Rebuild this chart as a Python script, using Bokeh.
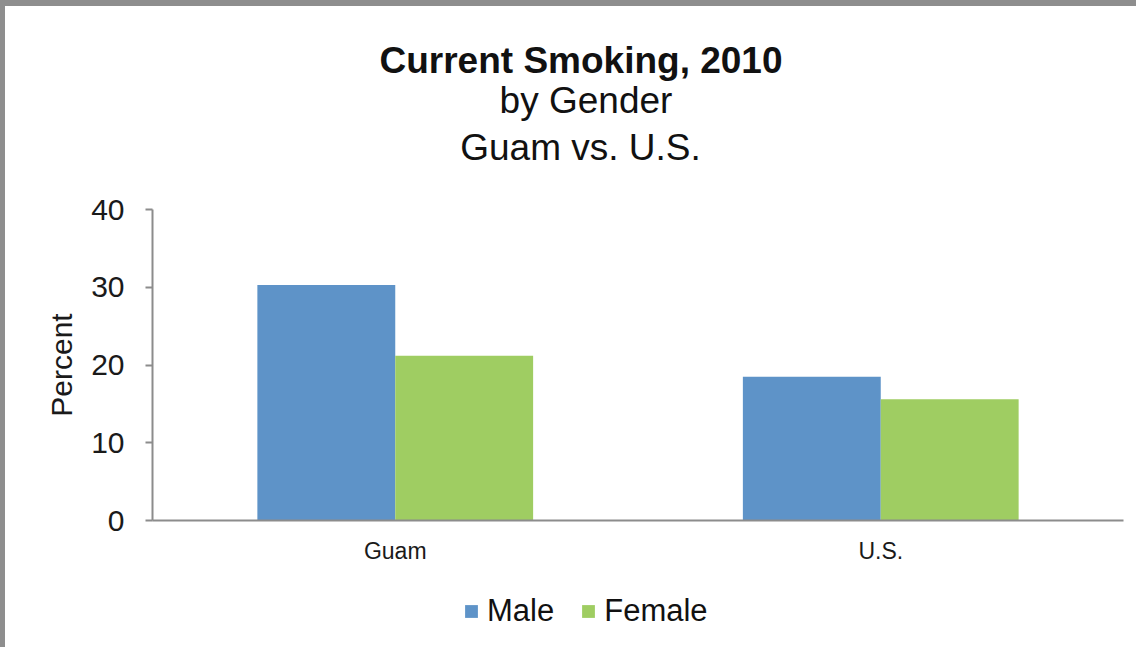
from bokeh.plotting import figure
from bokeh.models import (FactorRange, Range1d, FixedTicker, Legend, LegendItem,
                          ColumnDataSource, Label)
from bokeh.layouts import column
from bokeh.transform import dodge
from bokeh.embed import file_html
from bokeh.resources import INLINE

# ---- data ----
regions = ["Guam", "U.S."]
male = [30.3, 18.5]
female = [21.2, 15.6]
series_names = ["Male", "Female"]
y_ticks = [0, 10, 20, 30, 40]
title_lines = ["Current Smoking, 2010", "by Gender", "Guam vs. U.S."]
y_label = "Percent"

BLUE = "#5E93C8"
GREEN = "#9FCD62"
AXIS = "#8C8C8C"
BAND = "#8E8E8E"
FONT = "Liberation Sans"

BL, BT = 5, 6            # css frame band widths (left, top)
W = 1136 - BL            # figure width
LEFT, RIGHT = 147, 13    # borders shared by all stacked figures (frames are aligned)
X0, X1 = BL + LEFT, W + BL - RIGHT   # page x of frame edges


def strip_fig(height):
    f = figure(width=W, height=height, output_backend="svg", toolbar_location=None,
               x_range=Range1d(X0, X1), y_range=Range1d(0, height),
               x_axis_location=None, y_axis_location=None,
               min_border_left=LEFT, min_border_right=RIGHT,
               min_border_top=0, min_border_bottom=0)
    f.outline_line_color = None
    f.grid.grid_line_color = None
    f.background_fill_color = "white"
    f.border_fill_color = "white"
    return f


# ---- header with the three title lines ----
H_TOP = 180 - BT
head = strip_fig(H_TOP)
title_x = [580.5, 585.5, 580.0]
title_y = [59.5, 100.0, 146.8]   # page y of each line's anchor
for i, txt in enumerate(title_lines):
    head.add_layout(Label(x=title_x[i], y=H_TOP - (title_y[i] - BT), text=txt,
                          text_align="center", text_baseline="alphabetic",
                          text_font=FONT, text_font_size="37px",
                          text_font_style="bold" if i == 0 else "normal",
                          text_color="#111111"))

# ---- main chart ----
src = ColumnDataSource(dict(region=regions, male=male, female=female))

fig = figure(width=W, height=395, output_backend="svg", toolbar_location=None,
             x_range=FactorRange(*regions, range_padding=0),
             y_range=Range1d(0, 40),
             min_border_left=LEFT, min_border_right=RIGHT, min_border_top=29, min_border_bottom=55)
fig.background_fill_color = "white"
fig.border_fill_color = "white"
fig.outline_line_color = None
fig.xgrid.grid_line_color = None
fig.ygrid.grid_line_color = None

bw = 0.284
fig.vbar(x=dodge("region", -bw / 2, range=fig.x_range), top="male", width=bw, bottom=0,
         source=src, fill_color=BLUE, line_color=None)
fig.vbar(x=dodge("region", bw / 2, range=fig.x_range), top="female", width=bw, bottom=0,
         source=src, fill_color=GREEN, line_color=None)

fig.yaxis.ticker = FixedTicker(ticks=y_ticks)
fig.yaxis.axis_line_color = AXIS
fig.yaxis.axis_line_width = 2
fig.yaxis.major_tick_line_color = AXIS
fig.yaxis.major_tick_line_width = 2
fig.yaxis.major_tick_out = 7
fig.yaxis.major_tick_in = 0
fig.yaxis.minor_tick_line_color = None
fig.yaxis.major_label_text_font = FONT
fig.yaxis.major_label_text_font_size = "30px"
fig.yaxis.major_label_text_color = "#1a1a1a"
fig.yaxis.major_label_standoff = 21
fig.yaxis.axis_label = y_label
fig.yaxis.axis_label_text_font = FONT
fig.yaxis.axis_label_text_font_size = "30px"
fig.yaxis.axis_label_text_font_style = "normal"
fig.yaxis.axis_label_text_color = "#1a1a1a"
fig.yaxis.axis_label_standoff = 10

fig.xaxis.axis_line_color = AXIS
fig.xaxis.axis_line_width = 2
fig.xaxis.major_tick_line_color = None
fig.xaxis.minor_tick_line_color = None
fig.xaxis.major_label_text_font = FONT
fig.xaxis.major_label_text_font_size = "23px"
fig.xaxis.major_label_text_color = "#1a1a1a"
fig.xaxis.major_label_standoff = 11

# ---- legend strip ----
H_LEG = 72
leg = strip_fig(H_LEG)
lm = leg.vbar(x=[X0], top=[0], width=1, fill_color=BLUE, line_color=None, visible=False)
lf = leg.vbar(x=[X0], top=[0], width=1, fill_color=GREEN, line_color=None, visible=False)
legend = Legend(items=[LegendItem(label=series_names[0], renderers=[lm]),
                       LegendItem(label=series_names[1], renderers=[lf])],
                orientation="horizontal", location=(463 - X0, 18),
                glyph_width=16, glyph_height=16, label_standoff=8, spacing=26,
                padding=0, margin=0, border_line_color=None, background_fill_alpha=0,
                inactive_fill_alpha=0,
                label_text_font=FONT, label_text_font_size="31px", label_text_color="#111111")
leg.add_layout(legend, "center")

p = column(head, fig, leg, spacing=0,
           styles={"border-top": f"{BT}px solid {BAND}", "border-left": f"{BL}px solid {BAND}"})
open("out.html", "w").write(file_html(p, INLINE))
